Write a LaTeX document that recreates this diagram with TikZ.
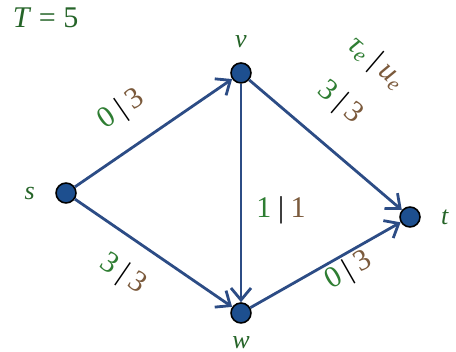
\documentclass[tikz,border=0pt]{standalone}
\usepackage{fontspec}
\setmainfont{Liberation Serif}
\usepackage{xcolor}
\definecolor{nodeblue}{HTML}{1D4F8F}
\definecolor{edgeblue}{HTML}{2C4C85}
\definecolor{taugreen}{HTML}{2E7D32}
\definecolor{capbrown}{HTML}{7B5A3C}
\colorlet{namegreen}{taugreen!80!black}
\usepackage{tikz}
\usetikzlibrary{arrows.meta}
\usetikzlibrary{positioning}
\newcommand{\pairlabel}[2]{\textcolor{taugreen}{#1}\hspace{0.22em}\textcolor{black}{|}\hspace{0.22em}\textcolor{capbrown}{#2}}

\begin{document}
\begin{tikzpicture}[
    vertex/.style={circle, draw=black, fill=nodeblue, line width=0.8pt, minimum size=0.35cm, inner sep=0pt},
    flowarc/.style={draw=edgeblue, line width=1.4pt, -{Straight Barb[length=6pt,width=10pt]}},
    elabel/.style={font=\fontsize{15}{18}\selectfont, inner sep=0pt},
    vname/.style={font=\fontsize{13}{16}\selectfont\itshape, text=namegreen, inner sep=0pt}]
        \useasboundingbox (0cm,0cm) rectangle (8cm,6.175cm);
        \node[font=\fontsize{15}{18}\selectfont, text=namegreen] (horizon) at (0.80cm,5.86cm) {\textit{T} = 5};

        \node[vertex] (s) at (1.158cm,2.789cm) {};
        \node[vertex] (v) at (4.228cm,4.895cm) {};
        \node[vertex] (w) at (4.228cm,0.684cm) {};
        \node[vertex] (t) at (7.193cm,2.368cm) {};
        \node[vname, left=10pt of s] (sname) {s};
        \node[vname, above=7pt of v] (vname) {v};
        \node[vname, below=6pt of w] (wname) {w};
        \node[vname, right=10pt of t] (tname) {t};

        \draw[flowarc] (s) -- (v) node[elabel, sloped, pos=0.43, above=11pt] (sv) {\pairlabel{0}{3}};
        \draw[flowarc] (s) -- (w) node[elabel, sloped, pos=0.43, below=10pt] (sw) {\pairlabel{3}{3}};
        \draw[flowarc] (v) -- (w) node[elabel, pos=0.58, right=7pt] (vw) {\pairlabel{1}{1}};
        \draw[flowarc] (w) -- (t) node[elabel, sloped, pos=0.6, below=1pt] (wt) {\pairlabel{0}{3}};
        \draw[flowarc] (v) -- (t)
            node[elabel, sloped, pos=0.42, above=13pt] (vt) {\pairlabel{3}{3}}
            node[elabel, sloped, pos=0.43, above=40pt] (legend) {\pairlabel{\textit{τ\textsubscript{e}}}{\textit{u\textsubscript{e}}}};
      \end{tikzpicture}
\end{document}
